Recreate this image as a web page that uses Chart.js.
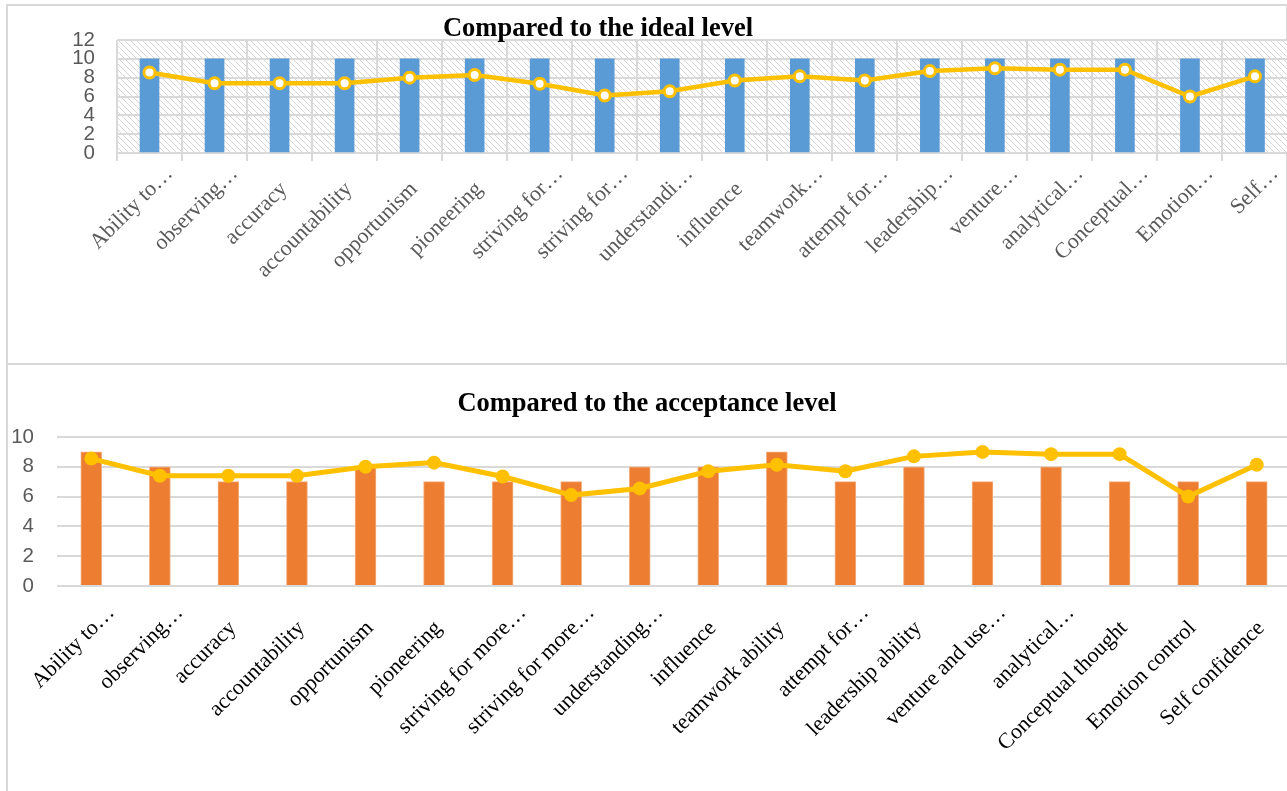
<!DOCTYPE html>
<html>
<head>
<meta charset="utf-8">
<script src="https://cdn.jsdelivr.net/npm/chart.js@4.4.1/dist/chart.umd.min.js"></script>
<style>
html,body{margin:0;padding:0;background:#fff;width:1287px;height:791px;overflow:hidden;}
.panel{position:absolute;box-sizing:border-box;}
#topPanel{left:6px;top:4px;width:1282px;height:361px;border:2px solid #D9D9D9;}
#botPanel{left:6px;top:363px;width:1300px;height:440px;border-top:2px solid #D9D9D9;border-left:2px solid #D9D9D9;}
.wrap{position:absolute;left:0;}
#w1{top:0;height:363px;width:1296px;}
#w2{top:364px;height:427px;width:1298px;}
.title{position:absolute;font-family:'Liberation Serif','Times New Roman',serif;font-weight:bold;font-size:26.5px;color:#000;transform:translateX(-50%);white-space:nowrap;line-height:1;}
</style>
</head>
<body>
<div class="panel" id="topPanel"></div>
<div class="panel" id="botPanel"></div>
<div class="wrap" id="w1"><canvas id="c1"></canvas></div>
<div class="wrap" id="w2"><canvas id="c2"></canvas></div>
<div class="title" id="t1" style="left:598px;top:14px;">Compared to the ideal level</div>
<div class="title" id="t2" style="left:647px;top:389px;">Compared to the acceptance level</div>
<script>
// ---- data ----
const topLabels = ["Ability to…","observing…","accuracy","accountability","opportunism","pioneering","striving for…","striving for…","understandi…","influence","teamwork…","attempt for…","leadership…","venture…","analytical…","Conceptual…","Emotion…","Self…"];
const bottomLabels = ["Ability to…","observing…","accuracy","accountability","opportunism","pioneering","striving for more…","striving for more…","understanding…","influence","teamwork ability","attempt for…","leadership ability","venture and use…","analytical…","Conceptual thought","Emotion control","Self confidence"];
const idealLevel = [10,10,10,10,10,10,10,10,10,10,10,10,10,10,10,10,10,10];
const acceptanceLevel = [9,8,7,7,8,7,7,7,8,8,9,7,8,7,8,7,7,7];
const currentLevel = [8.55,7.4,7.4,7.4,8.0,8.28,7.35,6.1,6.55,7.7,8.14,7.7,8.7,9.0,8.85,8.85,6.0,8.14];
const topTicks = {min:0, max:12, step:2};
const bottomTicks = {min:0, max:10, step:2};

Chart.defaults.animation = false;
Chart.defaults.devicePixelRatio = 1;

function makeHatch(){
  const c = document.createElement('canvas');
  c.width = 6; c.height = 6;
  const g = c.getContext('2d');
  g.fillStyle = '#fff'; g.fillRect(0,0,6,6);
  g.strokeStyle = '#D6D6D6'; g.lineWidth = 1;
  g.beginPath();
  g.moveTo(-1,-1); g.lineTo(7,7);
  g.moveTo(-1,5); g.lineTo(1,7);
  g.moveTo(5,-1); g.lineTo(7,1);
  g.stroke();
  return c;
}
const hatchPlugin = {
  id:'hatch',
  beforeDraw(chart){
    const {ctx, chartArea:a} = chart;
    const p = ctx.createPattern(makeHatch(), 'repeat');
    ctx.save();
    ctx.fillStyle = p;
    ctx.fillRect(a.left, a.top, a.right-a.left, a.bottom-a.top);
    ctx.restore();
  }
};

// Excel lets the truncation ellipsis overflow the label box; full labels stop short of it.
function labelCb(labels){
  return (value, index) => {
    const s = labels[index];
    return s.endsWith('…') ? s : s + '\u2003';
  };
}

const yFont = {family:"'Liberation Sans', Arial, sans-serif", size:20.5};
const xFont = {family:"'Liberation Serif', 'Times New Roman', serif", size:22};

new Chart(document.getElementById('c1'), {
  data:{
    labels: topLabels,
    datasets:[
      {type:'line', data: currentLevel, borderColor:'#FFC000', borderWidth:4.5,
       pointRadius:5.5, pointBackgroundColor:'#fff', pointBorderColor:'#FFC000', pointBorderWidth:3,
       order:0},
      {type:'bar', data: idealLevel, backgroundColor:'#5B9BD5', barThickness:19, order:1}
    ]
  },
  options:{
    responsive:true, maintainAspectRatio:false,
    layout:{padding:{top:40,right:0,bottom:0,left:0}},
    plugins:{legend:{display:false}, tooltip:{enabled:false}, title:{display:false}},
    scales:{
      x:{
        grid:{display:true, offset:true, color:'#D9D9D9', lineWidth:2, tickLength:8, drawTicks:true},
        border:{display:false},
        ticks:{color:'#595959', font:xFont, minRotation:45, maxRotation:45, autoSkip:false, padding:0, labelOffset:20, callback:labelCb(topLabels)},
        afterFit(s){ s.height = 210; }
      },
      y:{
        min:topTicks.min, max:topTicks.max,
        grid:{color:'#D9D9D9', lineWidth:2, drawTicks:false},
        border:{display:false},
        ticks:{stepSize:topTicks.step, color:'#595959', font:yFont, padding:22, autoSkip:false},
        afterFit(s){ s.width = 117; }
      }
    }
  },
  plugins:[hatchPlugin]
});

new Chart(document.getElementById('c2'), {
  data:{
    labels: bottomLabels,
    datasets:[
      {type:'line', data: currentLevel, borderColor:'#FFC000', borderWidth:5,
       pointRadius:7, pointBackgroundColor:'#FFC000', pointBorderColor:'#FFC000', pointBorderWidth:0,
       order:0},
      {type:'bar', data: acceptanceLevel, backgroundColor:'#ED7D31', borderColor:'#F4B183', borderWidth:1, barThickness:21, order:1}
    ]
  },
  options:{
    responsive:true, maintainAspectRatio:false,
    layout:{padding:{top:73,right:0,bottom:0,left:0}},
    plugins:{legend:{display:false}, tooltip:{enabled:false}, title:{display:false}},
    scales:{
      x:{
        grid:{display:false},
        border:{display:false},
        ticks:{color:'#000', font:xFont, minRotation:45, maxRotation:45, autoSkip:false, padding:6, labelOffset:20, callback:labelCb(bottomLabels)},
        afterFit(s){ s.height = 205; }
      },
      y:{
        min:bottomTicks.min, max:bottomTicks.max,
        grid:{color:'#D9D9D9', lineWidth:2, drawTicks:false},
        border:{display:false},
        ticks:{stepSize:bottomTicks.step, color:'#595959', font:yFont, padding:23, autoSkip:false},
        afterFit(s){ s.width = 57; }
      }
    }
  }
});
</script>
</body>
</html>
